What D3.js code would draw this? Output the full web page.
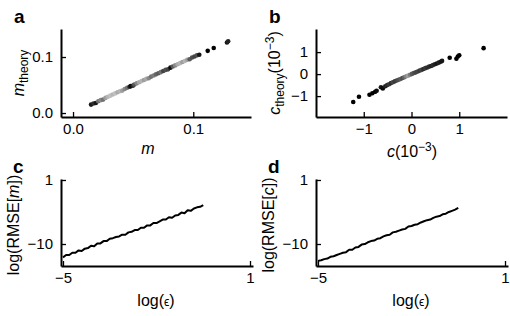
<!DOCTYPE html>
<html>
<head>
<meta charset="utf-8">
<script src="https://cdn.jsdelivr.net/npm/d3@7"></script>
<style>
  body { margin: 0; background: #fff; }
  svg { font-family: "Liberation Sans", Arial, sans-serif; }
  .axis path { stroke: #000; stroke-width: 2; }
  .axis line { stroke: #000; stroke-width: 1.3; }
  .axis text { font-size: 15px; fill: #000; font-family: "Liberation Sans", Arial, sans-serif; }
</style>
</head>
<body>
<script>
// panel a: slope m vs theory
const mVals = [0.015,0.017,0.019,0.021,0.023,0.025,0.027,0.029,0.031,0.033,0.035,0.037,0.039,0.041,0.043,0.045,0.047,0.048,0.050,0.051,0.053,0.055,0.057,0.059,0.061,0.063,0.065,0.067,0.069,0.071,0.073,0.075,0.077,0.079,0.081,0.083,0.085,0.087,0.089,0.091,0.093,0.095,0.097,0.099,0.101,0.103,0.105,0.112,0.117,0.128,0.129];
const mTheory = [0.015,0.017,0.018,0.021,0.023,0.024,0.027,0.029,0.031,0.033,0.035,0.037,0.039,0.040,0.043,0.045,0.047,0.048,0.049,0.051,0.053,0.055,0.057,0.059,0.061,0.062,0.065,0.067,0.069,0.071,0.073,0.075,0.077,0.078,0.081,0.083,0.085,0.087,0.089,0.091,0.093,0.095,0.096,0.099,0.101,0.103,0.104,0.111,0.116,0.126,0.128];
const mShade = [0.1,0.2,0.1,0.5,0.6,0.5,0.7,0.8,0.85,0.8,0.85,0.75,0.8,0.7,0.6,0.5,0.2,0.05,0.2,0.4,0.6,0.75,0.8,0.7,0.75,0.6,0.5,0.55,0.45,0.4,0.5,0.3,0.35,0.3,0.05,0.4,0.6,0.75,0.8,0.7,0.8,0.7,0.4,0.35,0.3,0.35,0.1,0.0,0.0,0.1,0.15];

// panel b: intercept c (1e-3) vs theory
const cVals = [-1.22,-1.10,-0.88,-0.82,-0.76,-0.73,-0.64,-0.60,-0.55,-0.51,-0.47,-0.43,-0.39,-0.35,-0.31,-0.27,-0.23,-0.19,-0.15,-0.11,-0.07,-0.03,0.01,0.05,0.09,0.13,0.17,0.21,0.25,0.29,0.33,0.37,0.41,0.45,0.49,0.53,0.57,0.61,0.64,0.80,0.94,0.97,1.00,1.51];
const cTheory = [-1.27,-1.03,-0.94,-0.87,-0.80,-0.76,-0.60,-0.65,-0.55,-0.50,-0.46,-0.41,-0.37,-0.33,-0.29,-0.26,-0.22,-0.18,-0.14,-0.10,-0.07,-0.03,0.01,0.05,0.08,0.12,0.16,0.19,0.23,0.27,0.30,0.34,0.37,0.41,0.45,0.48,0.52,0.56,0.60,0.74,0.70,0.80,0.86,1.18];
const cShade = [0,0,0,0,0,0.05,0.1,0.05,0.15,0.2,0.25,0.2,0.3,0.25,0.3,0.35,0.4,0.35,0.45,0.6,0.7,0.55,0.4,0.35,0.3,0.3,0.25,0.3,0.2,0.25,0.2,0.2,0.15,0.2,0.15,0.1,0.15,0.1,0.1,0,0,0,0,0];

// panels c, d: log RMSE vs log eps
const logEps = [-5.0,-4.9,-4.8,-4.7,-4.6,-4.5,-4.4,-4.3,-4.2,-4.1,-4.0,-3.9,-3.8,-3.7,-3.6,-3.5,-3.4,-3.3,-3.2,-3.1,-3.0,-2.9,-2.8,-2.7,-2.6,-2.5,-2.4,-2.3,-2.2,-2.1,-2.0,-1.9,-1.8,-1.7,-1.6,-1.5,-1.4,-1.3,-1.2,-1.1,-1.0,-0.9,-0.8,-0.7,-0.6,-0.5];
const rmseM = [-12.3,-11.9,-11.9,-11.5,-11.5,-11.1,-11.2,-10.8,-10.7,-10.3,-10.4,-9.9,-9.9,-9.5,-9.5,-9.1,-9.0,-8.8,-8.7,-8.4,-8.4,-8.0,-7.9,-7.6,-7.6,-7.2,-7.2,-6.8,-6.8,-6.4,-6.4,-6.1,-5.8,-5.8,-5.4,-5.5,-5.1,-5.0,-4.6,-4.7,-4.2,-4.3,-3.9,-3.7,-3.6,-3.3];
const rmseC = [-12.9,-12.8,-12.6,-12.5,-12.2,-12.1,-11.9,-11.7,-11.5,-11.4,-11.0,-11.0,-10.6,-10.5,-10.1,-10.0,-9.7,-9.5,-9.4,-9.1,-9.0,-8.7,-8.5,-8.4,-8.0,-7.9,-7.7,-7.5,-7.4,-7.0,-6.9,-6.7,-6.6,-6.3,-6.1,-5.9,-5.8,-5.5,-5.3,-5.2,-4.9,-4.8,-4.5,-4.3,-4.1,-3.8];

const W = 510, H = 316;
const svg = d3.select("body").append("svg").attr("width", W).attr("height", H);
const gray = d3.interpolateRgb("#000", "#e2e2e2");

function drawAxes(x, y, yx, xy, xTicks, yTicks, xFmt, yFmt) {
    svg.append("g").attr("class", "axis")
        .attr("transform", `translate(0,${xy})`)
        .call(d3.axisBottom(x).tickValues(xTicks).tickFormat(xFmt)
            .tickSizeInner(-5).tickSizeOuter(0).tickPadding(6));
    svg.append("g").attr("class", "axis")
        .attr("transform", `translate(${yx},0)`)
        .call(d3.axisLeft(y).tickValues(yTicks).tickFormat(yFmt)
            .tickSizeInner(-5).tickSizeOuter(0).tickPadding(8));
}

function letter(t, x, y) {
    svg.append("text").attr("x", x).attr("y", y)
        .attr("font-size", 19).attr("font-weight", "bold").text(t);
}

// ---- a ----
const xA = d3.scaleLinear().domain([-0.01, 0.148]).range([61, 251]);
const yA = d3.scaleLinear().domain([-0.0071, 0.15]).range([117, 29]);
drawAxes(xA, yA, 61, 117, [0, 0.1], [0, 0.1], d3.format(".1f"), d3.format(".1f"));
svg.append("g").selectAll("circle")
    .data(mVals.map((v, i) => ({x: v, y: mTheory[i], s: mShade[i]})))
    .join("circle")
    .attr("cx", d => xA(d.x)).attr("cy", d => yA(d.y))
    .attr("r", 2.3).attr("fill", d => gray(d.s));
letter("a", 14, 23);
svg.append("text").attr("x", 148).attr("y", 154).attr("text-anchor", "middle")
    .attr("font-size", 16).attr("font-style", "italic").text("m");
{
    const t = svg.append("text").attr("transform", "translate(24,73) rotate(-90)")
        .attr("text-anchor", "middle").attr("font-size", 16);
    t.append("tspan").attr("font-style", "italic").text("m");
    t.append("tspan").attr("font-size", 12).attr("dy", 4).text("theory");
}

// ---- b ----
const xB = d3.scaleLinear().domain([-2, 2]).range([316, 507]);
const yB = d3.scaleLinear().domain([-1.95, 2.05]).range([117, 29]);
drawAxes(xB, yB, 316, 117, [-1, 0, 1], [-1, 0, 1], d3.format("d"), d3.format("d"));
svg.append("g").selectAll("circle")
    .data(cVals.map((v, i) => ({x: v, y: cTheory[i], s: cShade[i]})))
    .join("circle")
    .attr("cx", d => xB(d.x)).attr("cy", d => yB(d.y))
    .attr("r", 2.3).attr("fill", d => gray(d.s));
letter("b", 269, 23);
{
    const t = svg.append("text").attr("x", 412).attr("y", 157)
        .attr("text-anchor", "middle").attr("font-size", 16);
    t.append("tspan").attr("font-style", "italic").text("c");
    t.append("tspan").text("(10");
    t.append("tspan").attr("font-size", 12).attr("dy", -6).text("\u22123");
    t.append("tspan").attr("dy", 6).text(")");
}
{
    const t = svg.append("text").attr("transform", "translate(280,73) rotate(-90)")
        .attr("text-anchor", "middle").attr("font-size", 16);
    t.append("tspan").attr("font-style", "italic").text("c");
    t.append("tspan").attr("font-size", 12).attr("dy", 4).text("theory");
    t.append("tspan").attr("dy", -4).text("(10");
    t.append("tspan").attr("font-size", 12).attr("dy", -6).text("\u22123");
    t.append("tspan").attr("dy", 6).text(")");
}

// ---- c, d ----
function errPanel(x0, yVals, lab, letterX) {
    const x = d3.scaleLinear().domain([-5.064, 1.096]).range([x0, x0 + 192]);
    const y = d3.scaleLinear().domain([-13.78, 1.17]).range([266, 179]);
    drawAxes(x, y, x0, 266, [-5, 1], [1, -10], d3.format("d"), d3.format("d"));
    svg.append("path")
        .datum(logEps.map((e, i) => [e, yVals[i]]))
        .attr("fill", "none").attr("stroke", "#000").attr("stroke-width", 2)
        .attr("stroke-linejoin", "round")
        .attr("d", d3.line().x(d => x(d[0])).y(d => y(d[1])));
    letter(lab, letterX, 173);
    const xl = svg.append("text").attr("x", x0 + 95).attr("y", 306)
        .attr("text-anchor", "middle").attr("font-size", 16);
    xl.append("tspan").text("log(");
    xl.append("tspan").attr("font-size", 12).text("\u03f5");
    xl.append("tspan").text(")");
    const yl = svg.append("text").attr("transform", `translate(${x0 - 42},225) rotate(-90)`)
        .attr("text-anchor", "middle").attr("font-size", 16);
    yl.append("tspan").text("log(RMSE[");
    yl.append("tspan").attr("font-style", "italic").text(lab === "c" ? "m" : "c");
    yl.append("tspan").text("])");
}
errPanel(61, rmseM, "c", 13);
errPanel(316, rmseC, "d", 268);
</script>
</body>
</html>
